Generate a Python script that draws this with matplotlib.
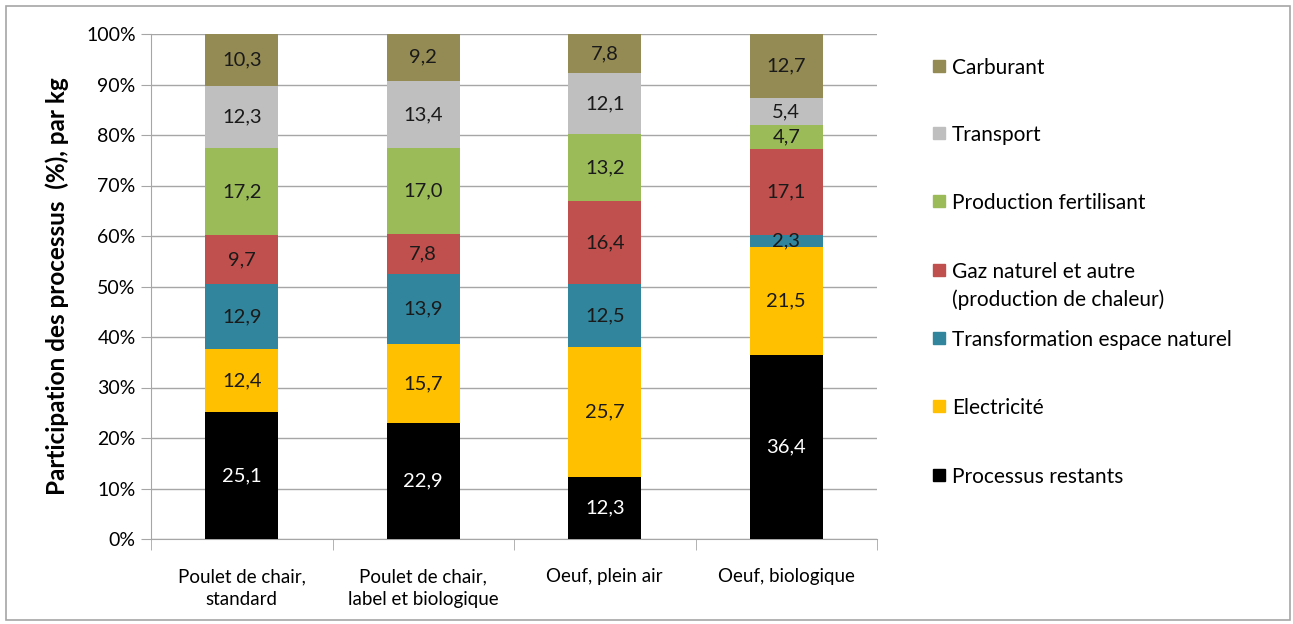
import numpy as np
import matplotlib.pyplot as plt
from matplotlib.patches import Rectangle

plt.rcParams['font.family'] = ['Lato', 'DejaVu Sans']

categories = ['Poulet de chair,\nstandard', 'Poulet de chair,\nlabel et biologique',
              'Oeuf, plein air', 'Oeuf, biologique']

# bottom to top
series_names = ['Processus restants', 'Electricité', 'Transformation espace naturel',
                'Gaz naturel et autre\n(production de chaleur)', 'Production fertilisant',
                'Transport', 'Carburant']
processus_restants = [25.1, 22.9, 12.3, 36.4]
electricite = [12.4, 15.7, 25.7, 21.5]
transformation = [12.9, 13.9, 12.5, 2.3]
gaz_naturel = [9.7, 7.8, 16.4, 17.1]
production_fertilisant = [17.2, 17.0, 13.2, 4.7]
transport = [12.3, 13.4, 12.1, 5.4]
carburant = [10.3, 9.2, 7.8, 12.7]

colors = ['#000000', '#FFC000', '#31859C', '#C0504D', '#9BBB59', '#BFBFBF', '#948A54']

values = np.array([processus_restants, electricite, transformation, gaz_naturel,
                   production_fertilisant, transport, carburant])
shares = values / values.sum(axis=0) * 100

W, H = 1293, 624
fig = plt.figure(figsize=(W / 100, H / 100), dpi=100)
fig.patches.append(Rectangle((6 / W, 4 / H), 1284 / W, 614 / H, transform=fig.transFigure,
                             fill=False, edgecolor='#A6A6A6', linewidth=1.2))
ax = fig.add_axes([151 / W, 1 - 539 / H, (877 - 151) / W, (539 - 34) / H])

x = np.arange(len(categories))
bottom = np.zeros(len(categories))
for i, name in enumerate(series_names):
    ax.bar(x, shares[i], 0.4, bottom=bottom, color=colors[i], label=name, zorder=3)
    for j in range(len(categories)):
        txt_color = 'white' if colors[i] == '#000000' else '#1a1a1a'
        ax.text(x[j], bottom[j] + shares[i][j] / 2, f'{values[i][j]:.1f}'.replace('.', ','),
                ha='center', va='center', fontsize=14.5, color=txt_color, zorder=4)
    bottom += shares[i]

ax.set_xlim(-0.5, len(categories) - 0.5)
ax.set_ylim(0, 100)
ax.set_yticks(np.arange(0, 101, 10))
ax.set_yticklabels([f'{v}%' for v in range(0, 101, 10)], fontsize=14)
ax.yaxis.grid(True, color='#A6A6A6', linewidth=1, zorder=0)
ax.set_xticks(x)
ax.set_xticklabels(categories, fontsize=13.5, linespacing=1.45)
ax.set_xticks(np.arange(-0.5, len(categories), 1), minor=True)
ax.tick_params(axis='x', which='major', length=0, pad=21)
ax.tick_params(axis='x', which='minor', length=8, color='#A6A6A6')
ax.tick_params(axis='y', length=7, color='#A6A6A6', pad=4)
for s in ['top', 'right']:
    ax.spines[s].set_visible(False)
for s in ['left', 'bottom']:
    ax.spines[s].set_color('#A6A6A6')
ax.set_ylabel('Participation des processus  (%), par kg', fontsize=17.5, fontweight='bold',
              labelpad=12)

# legend, top to bottom
legend_y = [66, 133, 201, 270, 338, 406, 475]
for k, i in enumerate(range(len(series_names) - 1, -1, -1)):
    yp = legend_y[k]
    fig.patches.append(Rectangle((933 / W, 1 - (yp + 6) / H), 12 / W, 12 / H,
                                 transform=fig.transFigure, color=colors[i]))
    for n, line in enumerate(series_names[i].split('\n')):
        fig.text(952 / W, 1 - (yp + 28 * n) / H, line, fontsize=15, va='center_baseline',
                 ha='left')

fig.savefig('out.png', dpi=100)
